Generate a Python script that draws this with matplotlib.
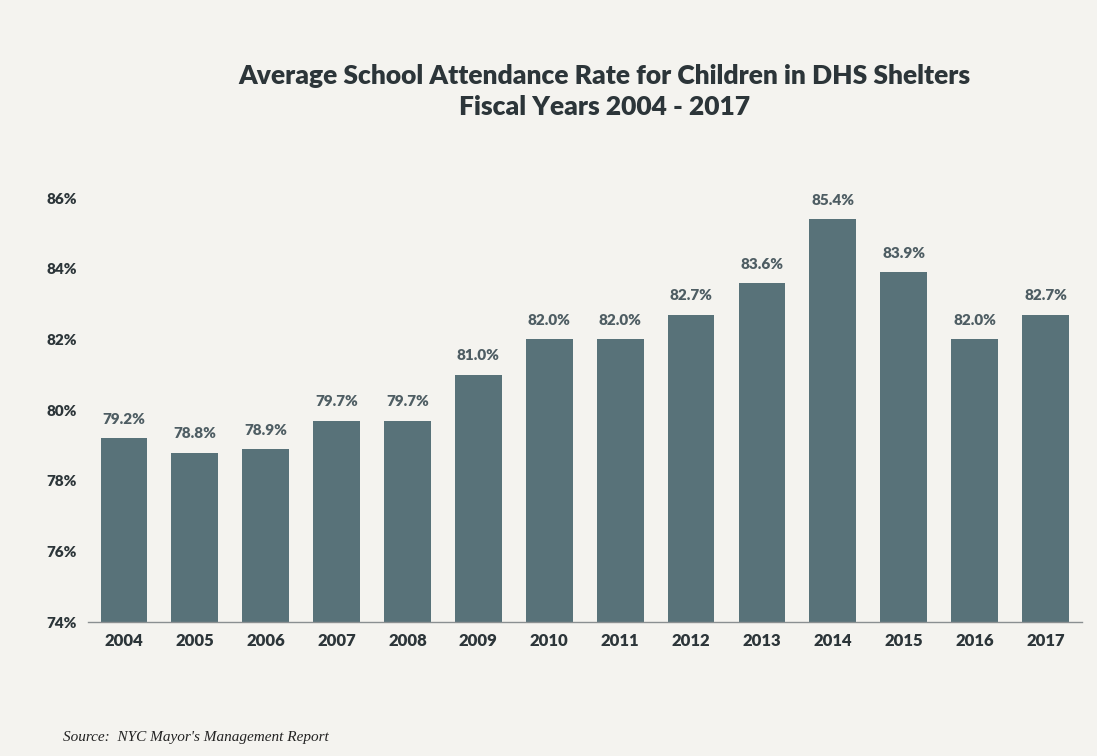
import matplotlib
matplotlib.use("Agg")

import matplotlib.pyplot as plt
import matplotlib.ticker as ticker

# ── Data ─────────────────────────────────────────────────────────────────────
YEARS = ["2004", "2005", "2006", "2007", "2008", "2009", "2010",
         "2011", "2012", "2013", "2014", "2015", "2016", "2017"]
RATES = [79.2, 78.8, 78.9, 79.7, 79.7, 81.0, 82.0,
         82.0, 82.7, 83.6, 85.4, 83.9, 82.0, 82.7]
Y_TICKS = [74, 76, 78, 80, 82, 84, 86]

BG = "#f4f3ef"
BAR = "#587279"
DARK = "#2c3539"
LABEL = "#4e5d63"

plt.rcParams["font.family"] = ["Lato", "DejaVu Sans"]

fig = plt.figure(figsize=(10.97, 7.56), dpi=100, facecolor=BG)
ax = fig.add_axes([0.080, 0.177, 0.906, 0.561], facecolor=BG)

x = list(range(len(YEARS)))
ax.bar(x, [r - 74 for r in RATES], bottom=74, width=0.66, color=BAR, zorder=2)

for xi, r in zip(x, RATES):
    ax.text(xi, r + 0.35, f"{r:.1f}%", ha="center", va="bottom",
            fontsize=11, fontweight="heavy", color=LABEL)

ax.set_xlim(-0.51, len(YEARS) - 0.49)
ax.set_ylim(74, 86)
ax.set_xticks(x)
ax.set_xticklabels(YEARS, fontsize=12, fontweight="heavy", color=DARK)
ax.set_yticks(Y_TICKS)
ax.yaxis.set_major_formatter(ticker.FuncFormatter(lambda v, p: f"{v:.0f}%"))
for lab in ax.get_yticklabels():
    lab.set_fontweight("heavy")
    lab.set_fontsize(11)
    lab.set_color(DARK)
    lab.set_horizontalalignment("left")
ax.tick_params(axis="x", length=0, pad=8)
ax.tick_params(axis="y", length=0, pad=30)

for s in ["top", "right", "left"]:
    ax.spines[s].set_visible(False)
ax.spines["bottom"].set_color("#8a8f91")
ax.spines["bottom"].set_linewidth(1.0)

fig.text(0.551, 0.899, "Average School Attendance Rate for Children in DHS Shelters",
         ha="center", va="center", fontsize=19, fontweight="heavy", color=DARK)
fig.text(0.551, 0.859, "Fiscal Years 2004 - 2017",
         ha="center", va="center", fontsize=19, fontweight="heavy", color=DARK)

fig.text(0.057, 0.024, "Source:  NYC Mayor's Management Report",
         ha="left", va="center", fontsize=11, style="italic",
         family=["Liberation Serif", "DejaVu Serif"], color="#222222")

plt.savefig("out.png", dpi=100, facecolor=BG)
plt.close(fig)
